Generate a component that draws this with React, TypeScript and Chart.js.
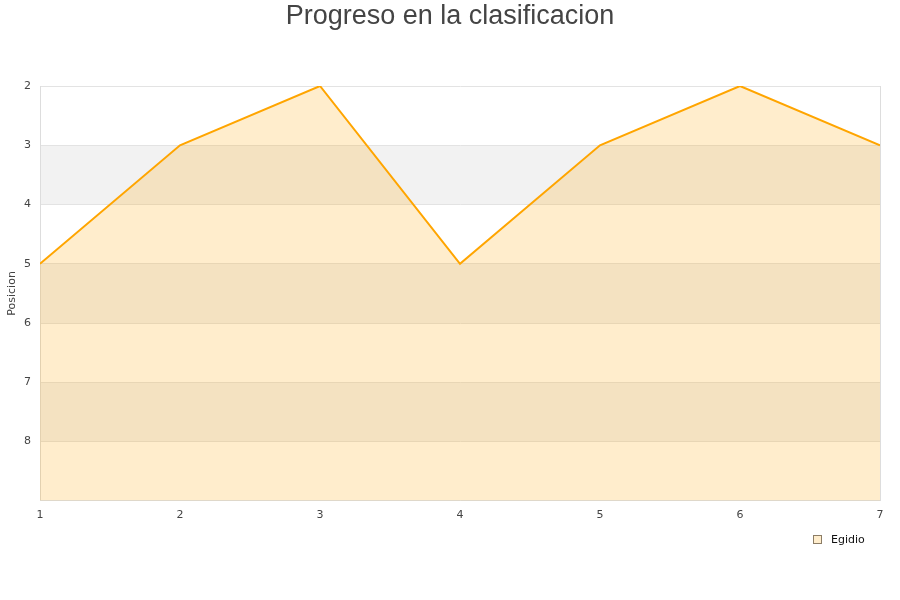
import React, { useEffect, useRef } from "react";
import { Chart, registerables } from "chart.js";

Chart.register(...registerables);

const jornadas = [1, 2, 3, 4, 5, 6, 7];
const posiciones = [5, 3, 2, 5, 3, 2, 3];
const seriesName = "Egidio";
const titleText = "Progreso en la clasificacion";
const yTitle = "Posicion";
const bandRanges = [[3, 4], [5, 6], [7, 8]];

const decorPlugin = {
  id: "decor",
  beforeDraw(chart: any) {
    const { ctx, chartArea } = chart;
    const y = chart.scales.y;
    ctx.save();
    ctx.fillStyle = "#f2f2f2";
    for (const [a, b] of bandRanges) {
      const ya = y.getPixelForValue(a);
      const yb = y.getPixelForValue(b);
      ctx.fillRect(chartArea.left, Math.min(ya, yb), chartArea.right - chartArea.left, Math.abs(yb - ya));
    }
    ctx.restore();
  },
  beforeDatasetsDraw(chart: any) {
    const { ctx, chartArea } = chart;
    ctx.save();
    ctx.strokeStyle = "#dddddd";
    ctx.lineWidth = 1;
    ctx.beginPath();
    ctx.moveTo(Math.round(chartArea.right) + 0.5, chartArea.top);
    ctx.lineTo(Math.round(chartArea.right) + 0.5, chartArea.bottom);
    ctx.stroke();
    ctx.restore();
  },
  afterDraw(chart: any) {
    const { ctx } = chart;
    ctx.save();
    // title
    ctx.fillStyle = "#444444";
    ctx.font = "27px 'Liberation Sans', Arial, sans-serif";
    ctx.textAlign = "center";
    ctx.textBaseline = "middle";
    ctx.fillText(titleText, 450, 17);
    // legend
    ctx.fillStyle = "#ffedcc";
    ctx.fillRect(814, 536, 7, 7);
    ctx.strokeStyle = "#8c7d66";
    ctx.lineWidth = 1;
    ctx.strokeRect(813.5, 535.5, 8, 8);
    ctx.fillStyle = "#111111";
    ctx.font = "11px 'DejaVu Sans', sans-serif";
    ctx.textAlign = "left";
    ctx.fillText(seriesName, 831, 540);
    ctx.restore();
  },
};

export default function App() {
  const ref = useRef<HTMLCanvasElement>(null);
  useEffect(() => {
    if (!ref.current) return;
    const chart = new Chart(ref.current, {
      type: "line",
      data: {
        datasets: [
          {
            label: seriesName,
            data: jornadas.map((j, i) => ({ x: j, y: posiciones[i] })),
            borderColor: "#ffa500",
            backgroundColor: "rgba(255,165,0,0.2)",
            borderWidth: 2,
            pointRadius: 0,
            tension: 0,
            fill: { value: 9 },
          },
        ],
      },
      options: {
        responsive: false,
        animation: false,
        layout: { padding: { left: 0, right: 20, top: 86, bottom: 70 } },
        plugins: {
          title: { display: false },
          legend: { display: false },
          tooltip: { enabled: false },
        },
        scales: {
          x: {
            type: "linear",
            min: 1,
            max: 7,
            ticks: {
              stepSize: 1,
              padding: 8,
              color: "#444444",
              font: { family: "'DejaVu Sans', sans-serif", size: 11 },
            },
            grid: { display: false, drawTicks: false },
            border: { display: true, color: "#dddddd" },
          },
          y: {
            type: "linear",
            reverse: true,
            min: 2,
            max: 9,
            afterFit: (s: any) => {
              s.width = 40;
            },
            ticks: {
              stepSize: 1,
              padding: 9,
              color: "#444444",
              font: { family: "'DejaVu Sans', sans-serif", size: 11 },
              callback: (v: any) => (v === 9 ? "" : String(v)),
            },
            title: {
              display: true,
              text: yTitle,
              color: "#444444",
              font: { family: "'DejaVu Sans', sans-serif", size: 11 },
              padding: { top: 6, bottom: 0 },
            },
            grid: { color: "#e3e3e3", drawTicks: false },
            border: { display: true, color: "#dddddd" },
          },
        },
      },
      plugins: [decorPlugin],
    });
    return () => chart.destroy();
  }, []);
  return (
    <div style={{ position: "absolute", left: 0, top: 0, width: 900, height: 600, background: "#fff" }}>
      <canvas ref={ref} width={900} height={600} style={{ display: "block" }} />
    </div>
  );
}
